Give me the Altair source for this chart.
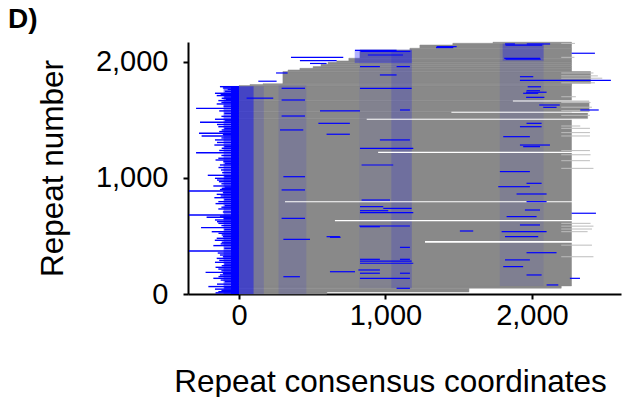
import altair as alt
import pandas as pd

# ---- gray body: bands of repeats (row range, consensus start/end) ----
band_y0 = [0, 18, 50, 70, 1510, 1560, 1570, 1665, 1796, 1805, 1812, 1816, 1917, 1931, 1945, 1960, 1980, 1997, 2009, 2032, 2103, 2118, 2146, 2161]
band_y1 = [18, 50, 70, 1510, 1560, 1570, 1665, 1796, 1805, 1812, 1816, 1917, 1931, 1945, 1960, 1980, 1997, 2009, 2032, 2103, 2118, 2146, 2161, 2170]
band_x0 = [0, 0, 0, 0, 0, 0, 0, 0, 75, 164, 300, 300, 335, 416, 506, 560, 608, 668, 750, 826, 1167, 1235, 1460, 1734]
band_x1 = [600, 1570, 2200, 2270, 2380, 2270, 2390, 2270, 2270, 2270, 2270, 2400, 2270, 2270, 2270, 2270, 2270, 2270, 2270, 2270, 2270, 2270, 2270, 2270]

# ---- blue tinted regions (dense blue columns) ----
tint_y0 = [0, 0, 0, 0, 0, 50, 1990, 2010, 50, 70]
tint_y1 = [1790, 1790, 1790, 1790, 1800, 2105, 2105, 2160, 2100, 2155]
tint_x0 = [-55, -105, 0, 100, 270, 820, 790, 1800, 1040, 1780]
tint_x1 = [0, -55, 100, 170, 460, 1180, 1180, 2080, 1180, 2080]
tint_op = [1.0, 0.5, 0.5, 0.13, 0.1, 0.05, 0.3, 0.25, 0.14, 0.07]

# ---- white gaps between groups of repeats ----
gap_y0 = [442, 626, 790, 1215, 1502, 1562, 1660]
gap_y1 = [456, 637, 800, 1226, 1511, 1570, 1668]
gap_x0 = [1270, 655, 314, 950, 872, 1450, 1870]
gap_x1 = [2610, 2610, 2610, 2610, 2610, 2610, 2610]

# ---- light gray tails at the right edge ----
tail_row = [2160, 2040, 1905, 1880, 1860, 1840, 1820, 1700, 1650, 1610, 1580, 1540, 1448, 1428, 1391, 1362, 1236, 1200, 1149, 1083, 609, 585, 560, 537, 421, 321]
tail_x1 = [2294, 2290, 2420, 2450, 2480, 2485, 2430, 2300, 2400, 2410, 2396, 2396, 2330, 2396, 2396, 2396, 2396, 2400, 2396, 2420, 2400, 2420, 2410, 2380, 2410, 2420]

# ---- blue insertion spikes to the left of the consensus start ----
spike_row = [1787, 1764, 1730, 1710, 1687, 1667, 1638, 1600, 1557, 1506, 1480, 1442, 1414, 1385, 1362, 1328, 1284, 1256, 1218, 1170, 1141, 1112, 1069, 1023, 997, 968, 931, 911,
             888, 859, 830, 796, 762, 733, 681, 661, 638, 609, 572, 537, 509, 480, 446, 417, 370, 336, 307, 273, 244, 215, 186, 164, 135, 106, 64, 42, 20,
             1776, 1747, 1720, 1698, 1677, 1652, 1619, 1578, 1531, 1493, 1461, 1428, 1400, 1374, 1345, 1306, 1270, 1237, 1194, 1155, 1126, 1090, 1046, 1010,
             982, 950, 921, 900, 873, 845, 813, 779, 748, 707, 671, 650, 623, 590, 555, 523, 495, 463, 432, 394, 353, 321, 290, 258, 230, 200, 175, 150, 120, 85, 53, 31, 10]
spike_x0 = [-130, -77, -164, -152, -118, -141, -152, -293, -100, -164, -266, -141, -118, -273, -255, -164, -168, -118, -293, -141, -107, -130, -123, -213, -164, -137, -175, -118,
            -341, -152, -168, -141, -96, -141, -341, -221, -164, -141, -259, -186, -118, -152, -118, -175, -341, -130, -152, -164, -118, -141, -228, -130, -175, -96, -209, -164, -141,
            -110, -95, -125, -100, -90, -120, -105, -135, -120, -95, -150, -100, -135, -110, -120, -150, -100, -135, -120, -160, -95, -140, -115, -100,
            -150, -120, -95, -130, -110, -125, -100, -160, -120, -110, -130, -105, -150, -120, -100, -140, -110, -165, -125, -100, -145, -110, -135, -100, -160, -120, -110, -140, -125, -150, -100, -120, -160]

# ---- blue segments over the body ----
seg_row = [1471, 1471, 1414, 1377, 1284, 1256, 1055, 1011, 925, 897, 862, 696, 652, 543, 537, 494, 356, 299, 299, 207, 149, 135, 78, 49,
           810, 738, 718, 586, 489, 284, 192, 135,
           2100, 2040, 2012, 1987, 1905, 1834, 1773, 1688, 2155, 2155, 2124, 2075, 2031, 1842, 1786, 1739, 1695, 1629, 1586,
           1586, 1730, 1888, 1960, 1960, 2132, 2090, 2060, 2025, 2145,
           1579, 1773, 1672, 1534, 1328, 1112, 753, 701, 580, 471, 402, 265, 179, 179,
           1873, 1752, 1609, 1442, 1356, 1270, 954, 796, 724, 667, 595, 494, 294, 236, 164]
seg_x0 = [542, 1963, 280, 598, 1918, 826, 1781, 303, 1770, 291, 1895, 2271, 291, 1508, 1793, 598, 1963, 826, 1099, 815, 303, 2259, 2100, 1076,
          837, 985, 826, 821, 621, 826, 621, 826,
          792, 355, 416, 485, 253, 132, 826, 52, 1816, 1965, 1345, 2271, 1811, 1918, 1971, 1960, 1960, 2050, 2330,
          1099, 1940, 962, 826, 1076, 1349, 830, 880, 1820, 1820,
          553, 291, 291, 291, 962, 837, 826, 826, 826, 303, 1099, 826, 826, 1099,
          1918, 1963, 2077, 1918, 1804, 1940, 1963, 1963, 1952, 1827, 1918, 1816, 1816, 1804, 1963]
seg_x1 = [757, 2066, 439, 757, 2123, 1190, 1986, 451, 1986, 451, 2100, 2437, 451, 1599, 2100, 689, 2168, 962, 1167, 962, 416, 2328, 2180, 1167,
          1031, 1179, 1019, 1167, 694, 1179, 792, 1167,
          1076, 712, 667, 598, 332, 257, 1179, 234, 1884, 2124, 1463, 2430, 2055, 2539, 2062, 2100, 2085, 2190, 2456,
          1167, 2043, 1076, 962, 1167, 1486, 1170, 1120, 2060, 2070,
          826, 451, 451, 451, 1167, 1053, 985, 1190, 962, 485, 1167, 1190, 962, 1167,
          2009, 2055, 2168, 2066, 1986, 2055, 2066, 2100, 2055, 2032, 2055, 2043, 1986, 1940, 2066]

bands = pd.DataFrame({"y0": band_y0, "y1": band_y1, "x0": band_x0, "x1": band_x1})
tints = pd.DataFrame({"y0": tint_y0, "y1": tint_y1, "x0": tint_x0, "x1": tint_x1, "op": tint_op})
gaps = pd.DataFrame({"y0": gap_y0, "y1": gap_y1, "x0": gap_x0, "x1": gap_x1})
tails = pd.DataFrame({"row": tail_row, "x0": [2200] * len(tail_row), "x1": tail_x1})
spikes = pd.DataFrame({"row": spike_row, "x0": spike_x0, "x1": [0] * len(spike_row)})
segs = pd.DataFrame({"row": seg_row, "x0": seg_x0, "x1": seg_x1})

FONT = "Liberation Sans"
LBL = "format(datum.value, ',')"
xs = alt.Scale(domain=[-348, 2608], nice=False, zero=False)
ys = alt.Scale(domain=[0, 2172], nice=False, zero=False)

x_axis = alt.Axis(values=[0, 1000, 2000], labelExpr=LBL, labelFont=FONT, labelFontSize=29, labelColor="black",
                  labelPadding=2, domainColor="black", domainWidth=2, tickColor="black", tickWidth=2,
                  tickSize=5, grid=False, title="Repeat consensus coordinates", titleFont=FONT,
                  titleFontSize=31.5, titleFontWeight="normal", titleColor="black", titleX=202, titleY=97,
                  titleBaseline="alphabetic", titleAlign="center")
y_axis = alt.Axis(values=[0, 1000, 2000], labelExpr=LBL, labelFont=FONT, labelFontSize=29, labelColor="black",
                  labelPadding=15, domainColor="black", domainWidth=2, tickColor="black", tickWidth=2,
                  tickSize=5, grid=False, title="Repeat number", titleFont=FONT, titleFontSize=31.5,
                  titleFontWeight="normal", titleColor="black", titleX=-126, titleY=126, titleAngle=270,
                  titleBaseline="alphabetic", titleAlign="center")

body = alt.Chart(bands).mark_rect(color="#898989", stroke="#898989", strokeWidth=0.5).encode(
    x=alt.X("x0:Q", scale=xs, axis=x_axis), x2="x1:Q",
    y=alt.Y("y0:Q", scale=ys, axis=y_axis), y2="y1:Q")
tint = alt.Chart(tints).mark_rect(color="#0000ff").encode(
    x=alt.X("x0:Q", scale=xs), x2="x1:Q",
    y=alt.Y("y0:Q", scale=ys), y2="y1:Q",
    opacity=alt.Opacity("op:Q", scale=None, legend=None))
gap = alt.Chart(gaps).mark_rect(color="white").encode(
    x=alt.X("x0:Q", scale=xs), x2="x1:Q",
    y=alt.Y("y0:Q", scale=ys), y2="y1:Q")
tail = alt.Chart(tails).mark_rule(color="#bdbdbd", strokeWidth=1).encode(
    x=alt.X("x0:Q", scale=xs), x2="x1:Q", y=alt.Y("row:Q", scale=ys))
spike = alt.Chart(spikes).mark_rule(color="#0000ff", strokeWidth=1.4).encode(
    x=alt.X("x0:Q", scale=xs), x2="x1:Q", y=alt.Y("row:Q", scale=ys))
seg = alt.Chart(segs).mark_rule(color="#0000ff", strokeWidth=1.2).encode(
    x=alt.X("x0:Q", scale=xs), x2="x1:Q", y=alt.Y("row:Q", scale=ys))

chart = alt.layer(body, tint, gap, tail, spike, seg).properties(
    width=433, height=252,
    autosize=alt.AutoSizeParams(type="none"),
    padding={"left": 188, "top": 42, "right": 1, "bottom": 103},
    title=alt.TitleParams("D)", anchor="start", frame="group", dx=-180, fontSize=28, fontWeight="bold",
                          font=FONT, color="black", offset=8),
).configure_view(stroke=None)

chart.save("out.html", embed_options={"renderer": "svg", "actions": False})
